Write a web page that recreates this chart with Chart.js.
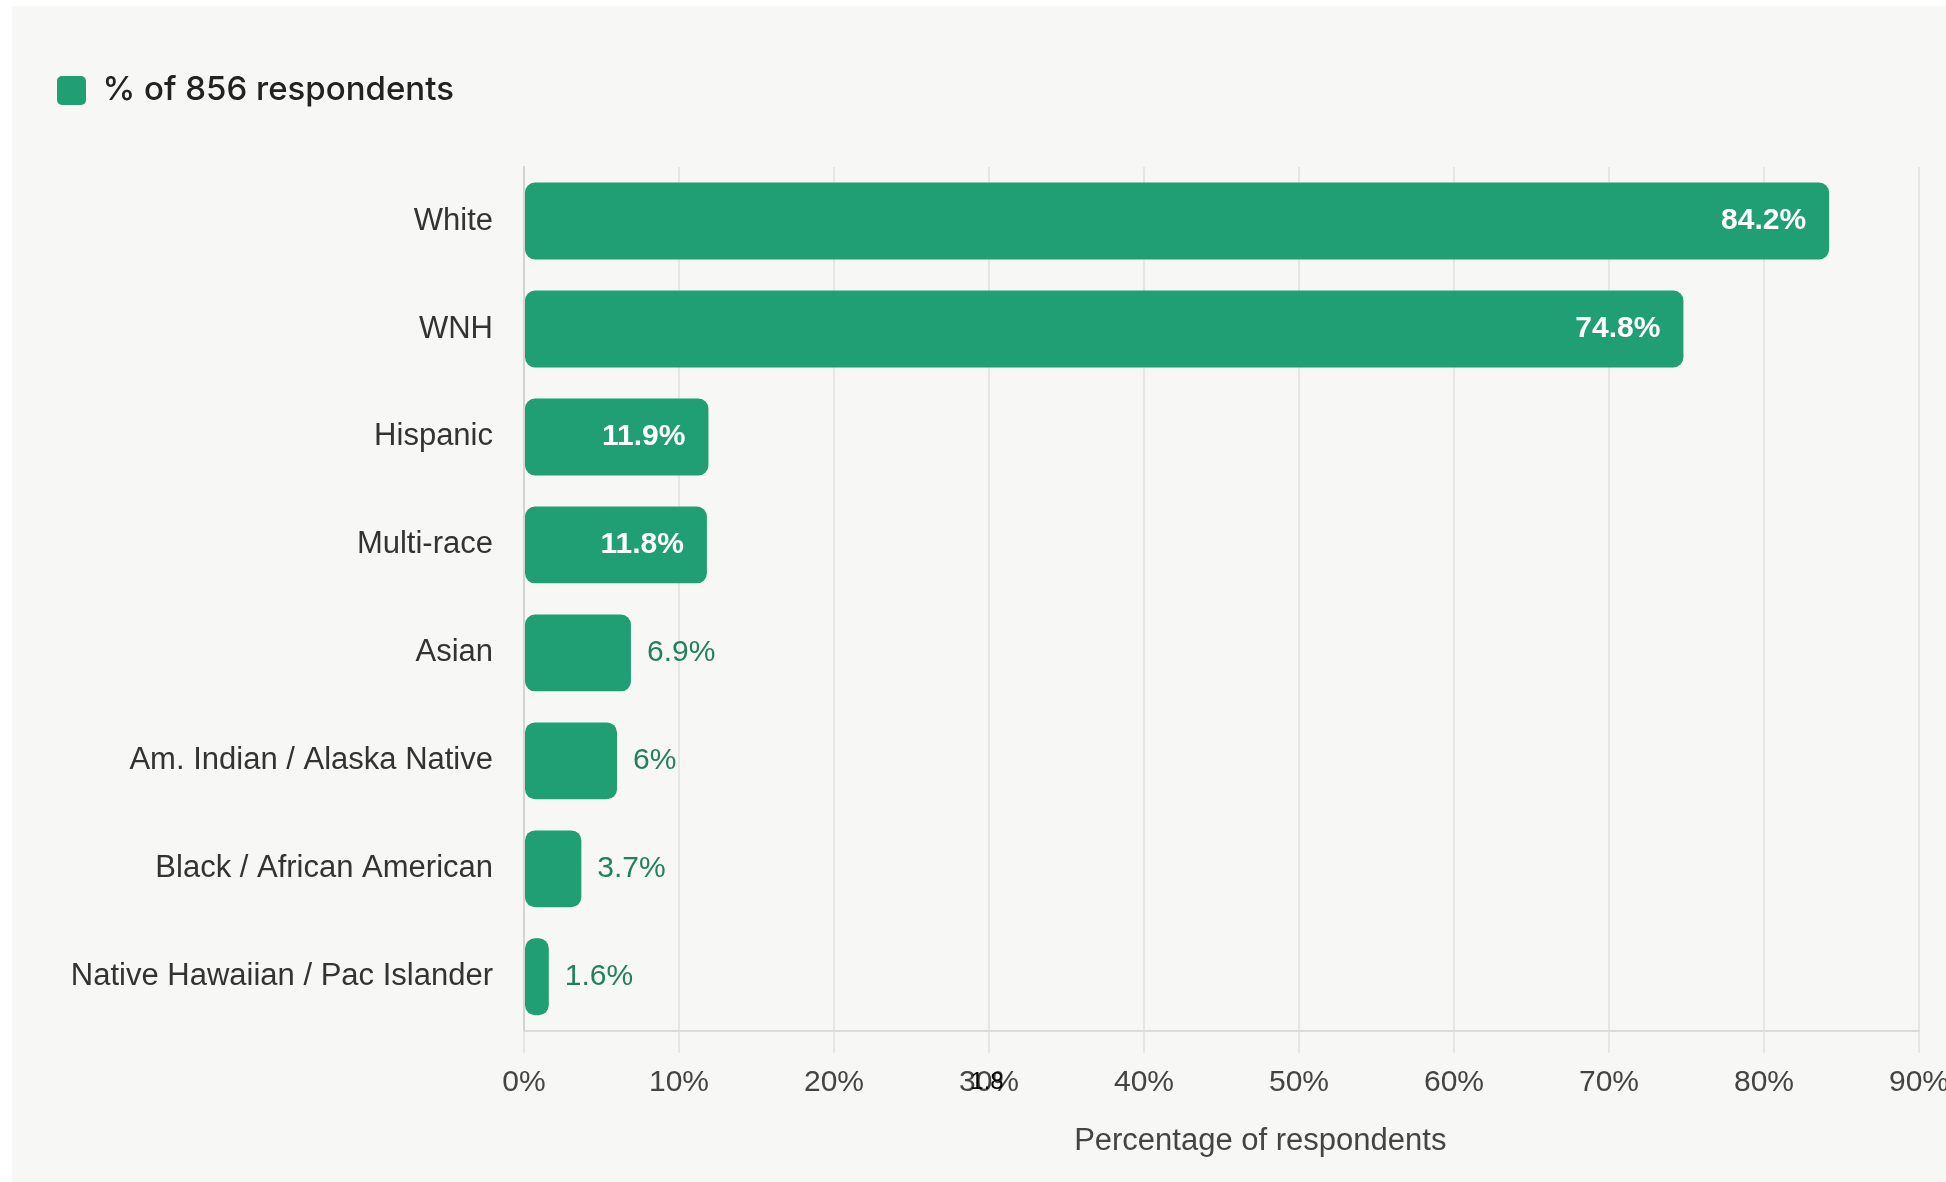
<!DOCTYPE html>
<html>
<head>
<meta charset="utf-8">
<script src="https://cdn.jsdelivr.net/npm/chart.js@4/dist/chart.umd.min.js"></script>
<style>
  html, body { margin: 0; padding: 0; background: #ffffff; overflow: hidden; }
  #panel { position: absolute; left: 12px; top: 6px; width: 1960px; height: 1176px; background: #f7f7f5; }
</style>
</head>
<body>
<div id="panel"><canvas id="raceChart" width="1960" height="1176"></canvas></div>
<script>
// Data
const categories = ['White', 'WNH', 'Hispanic', 'Multi-race', 'Asian',
  'Am. Indian / Alaska Native', 'Black / African American', 'Native Hawaiian / Pac Islander'];
const percentValues = [84.2, 74.8, 11.9, 11.8, 6.9, 6, 3.7, 1.6];
const seriesLabel = '% of 856 respondents';
const xTickValues = [0, 10, 20, 30, 40, 50, 60, 70, 80, 90];
const strayText = '1.8'; // small black label sitting on the 30% tick

const barColor = '#209e74';
const axisFont = "'Liberation Sans', Arial, sans-serif";

// Pushes the plot area down below the legend
const legendSpacer = {
  id: 'legendSpacer',
  beforeInit(chart) {
    const fit = chart.legend.fit;
    chart.legend.fit = function () {
      fit.call(this);
      this.height += 50;
    };
  }
};

// Draws the value labels (inside the long bars, outside the short ones)
const valueLabels = {
  id: 'valueLabels',
  afterDatasetsDraw(chart) {
    const ctx = chart.ctx;
    const meta = chart.getDatasetMeta(0);
    ctx.save();
    ctx.textBaseline = 'middle';
    meta.data.forEach((bar, i) => {
      const v = percentValues[i];
      const txt = v + '%';
      if (v >= 10) {
        ctx.font = '600 30px ' + axisFont;
        ctx.fillStyle = '#ffffff';
        ctx.textAlign = 'right';
        ctx.fillText(txt, bar.x - 23, bar.y);
      } else {
        ctx.font = '30px ' + axisFont;
        ctx.fillStyle = '#23805f';
        ctx.textAlign = 'left';
        ctx.fillText(txt, bar.x + 16, bar.y);
      }
    });
    // stray label on the x axis
    const xs = chart.scales.x;
    ctx.font = '24px ' + axisFont;
    ctx.fillStyle = '#000000';
    ctx.textAlign = 'center';
    ctx.fillText(strayText, xs.getPixelForValue(30) - 2, chart.chartArea.bottom + 52);
    ctx.restore();
  }
};

const config = {
  type: 'bar',
  data: {
    labels: categories,
    datasets: [{
      label: seriesLabel,
      data: percentValues,
      backgroundColor: barColor,
      borderColor: barColor,
      borderWidth: 0,
      borderRadius: 10,
      borderSkipped: false,
      categoryPercentage: 0.8,
      barPercentage: 0.89
    }]
  },
  options: {
    indexAxis: 'y',
    responsive: false,
    animation: false,
    layout: {
      padding: { top: 58, left: 35, right: 53, bottom: 0 }
    },
    plugins: {
      legend: {
        display: true,
        position: 'top',
        align: 'start',
        labels: {
          boxWidth: 29,
          boxHeight: 29,
          padding: 10,
          useBorderRadius: true,
          borderRadius: 5,
          color: '#222222',
          font: { family: "Inter, 'Noto Sans', sans-serif", size: 33, weight: '500' }
        }
      },
      tooltip: { enabled: false }
    },
    scales: {
      x: {
        min: 0,
        max: 90,
        afterBuildTicks(scale) {
          scale.ticks = xTickValues.map(v => ({ value: v }));
        },
        ticks: {
          color: '#444444',
          padding: 12,
          font: { family: axisFont, size: 30 },
          callback: v => v + '%'
        },
        grid: {
          color: '#e6e6e4',
          lineWidth: 2,
          tickLength: 22
        },
        border: { color: '#dcdcda', width: 2 },
        title: {
          display: true,
          // leading spaces nudge the title right like in the original
          text: '\u00a0\u00a0\u00a0\u00a0\u00a0\u00a0\u00a0\u00a0\u00a0Percentage of respondents',
          color: '#444444',
          font: { family: axisFont, size: 31 },
          padding: { top: 10, bottom: 22 }
        }
      },
      y: {
        afterFit(scale) {
          scale.width = 477;
        },
        ticks: {
          color: '#333333',
          padding: 23,
          font: { family: axisFont, size: 31 }
        },
        grid: { display: false },
        border: { color: '#d4d4d2', width: 2 }
      }
    }
  },
  plugins: [legendSpacer, valueLabels]
};

window.onload = () => {
  const ctx = document.getElementById('raceChart').getContext('2d');
  new Chart(ctx, config);
};
</script>
</body>
</html>
